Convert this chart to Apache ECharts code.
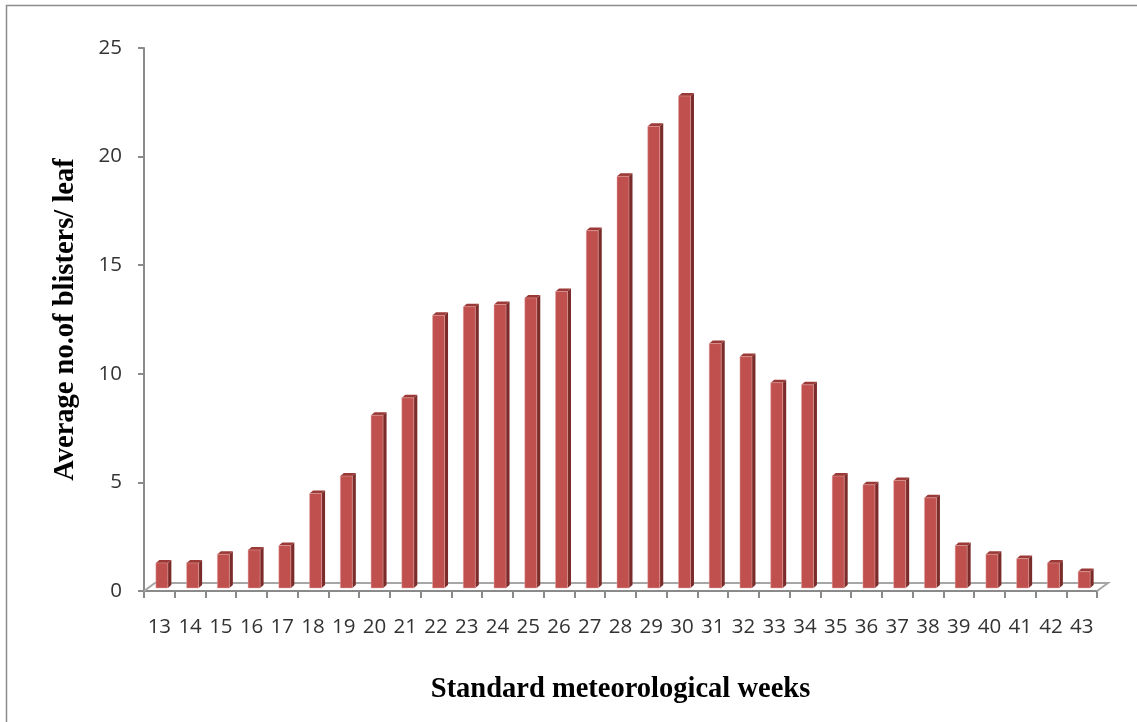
<!DOCTYPE html>
<html>
<head>
<meta charset="utf-8">
<script src="https://cdn.jsdelivr.net/npm/echarts@6/dist/echarts.min.js"></script>
<style>html,body{margin:0;padding:0;background:#fff;}#c{width:1137px;height:722px;}</style>
</head>
<body>
<div id="c"></div>
<script>
const weeks = ['13','14','15','16','17','18','19','20','21','22','23','24','25','26','27','28','29','30','31','32','33','34','35','36','37','38','39','40','41','42','43'];
const blisters = [1.2,1.2,1.6,1.8,2.0,4.4,5.2,8.0,8.8,12.6,13.0,13.1,13.4,13.7,16.5,19.0,21.3,22.7,11.3,10.7,9.5,9.4,5.2,4.8,5.0,4.2,2.0,1.6,1.4,1.2,0.8];
const yTicks = {min:0, max:25, interval:5};
const xTitle = 'Standard meteorological weeks';
const yTitle = 'Average no.of blisters/ leaf';

const chart = echarts.init(document.getElementById('c'), null, {renderer:'canvas'});

function renderBar(params, api) {
  const i = api.value(0), v = api.value(1);
  const p = api.coord([i, v]);
  const b = api.coord([i, 0]);
  const c = p[0];
  const top = p[1] - 2, bot = b[1] - 3;
  const x0 = c - 3.5, x1 = c + 8.5, d = 3.5, dy = 3;
  return {
    type: 'group',
    children: [
      {type:'polygon', shape:{points:[[x1,top],[x1+d,top-dy],[x1+d,bot-dy],[x1,bot]]}, style:{fill:'#7b2c2a'}},
      {type:'polygon', shape:{points:[[x0,top],[x0+d,top-dy],[x1+d,top-dy],[x1,top]]}, style:{fill:'#9a3936'}},
      {type:'rect', shape:{x:x0, y:top, width:x1-x0, height:bot-top}, style:{fill:'#c0504d', stroke:'rgba(230,170,170,0.6)', lineWidth:0.8}}
    ]
  };
}

function renderFloor(params, api) {
  const band = api.size([1, 0])[0];
  const a = api.coord([0, 0]);
  const z = api.coord([weeks.length - 1, 0]);
  const L = a[0] - band / 2, R = z[0] + band / 2, y = a[1];
  return {
    type: 'polyline',
    shape: {points: [[L, y], [L + 11, y - 8], [R + 11, y - 8], [R, y]]},
    style: {stroke: '#a6a6a6', lineWidth: 2, fill: null}
  };
}

chart.setOption({
  animation: false,
  backgroundColor: '#fff',
  grid: {left: 144, right: 40, top: 48, bottom: 131},
  graphic: [{type:'rect', shape:{x:6.5, y:5.5, width:1200, height:800}, style:{fill:null, stroke:'#8c8c8c', lineWidth:1.5}, z:-10}],
  xAxis: {
    type: 'category',
    data: weeks,
    boundaryGap: true,
    name: xTitle,
    nameLocation: 'middle',
    nameGap: 84,
    nameTextStyle: {fontFamily:'Liberation Serif', fontWeight:'bold', fontSize:28.5, color:'#000'},
    axisLine: {lineStyle:{color:'#8a8a8a', width:2}},
    axisTick: {show:true, length:7, alignWithLabel:false, lineStyle:{color:'#8a8a8a', width:2}},
    axisLabel: {fontFamily:'Open Sans', fontSize:20.5, color:'#333', margin:26, interval:0},
    splitLine: {show:false}
  },
  yAxis: {
    type: 'value',
    min: yTicks.min, max: yTicks.max, interval: yTicks.interval,
    name: yTitle,
    nameLocation: 'middle',
    nameGap: 64,
    nameRotate: 90,
    nameTextStyle: {fontFamily:'Liberation Serif', fontWeight:'bold', fontSize:28.5, color:'#000'},
    axisLine: {show:true, lineStyle:{color:'#8a8a8a', width:2}},
    axisTick: {show:true, length:6, lineStyle:{color:'#8a8a8a', width:2}},
    axisLabel: {fontFamily:'Open Sans', fontSize:20.5, color:'#333', margin:22},
    splitLine: {show:false}
  },
  series: [
    {type:'custom', name:'floor', renderItem: renderFloor, data:[[0,0]], encode:{x:0,y:1}, z:1, silent:true},
    {type:'custom', name:'blisters', renderItem: renderBar, data: blisters.map((v,i)=>[i,v]), encode:{x:0,y:1}, z:2}
  ]
});
</script>
</body>
</html>
